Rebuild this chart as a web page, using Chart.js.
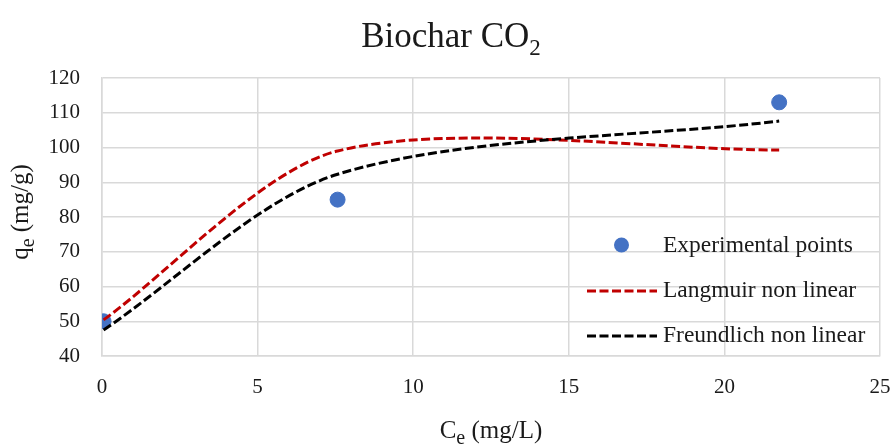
<!DOCTYPE html>
<html lang="en">
<head>
    <meta charset="UTF-8">
    <title>Biochar CO2</title>
    <script src="https://cdn.jsdelivr.net/npm/chart.js"></script>
    <style>
        html, body { margin: 0; padding: 0; background: #fff; }
        #wrap { width: 893px; height: 446px; }
    </style>
</head>
<body>
    <div id="wrap"><canvas id="chart"></canvas></div>

    <script>
        // data
        const ceExp = [0.05, 7.57, 21.76];
        const qeExp = [50.0, 85.0, 113.0];
        const qeLangmuir = [50.4, 99.0, 99.3];
        const qeFreundlich = [47.5, 92.3, 107.6];

        const xTicks = [0, 5, 10, 15, 20, 25];
        const yTicks = [40, 50, 60, 70, 80, 90, 100, 110, 120];

        const serif = '"Liberation Serif", "Times New Roman", serif';
        const textColor = "#1a1a1a";

        function toPoints(xs, ys) {
            return xs.map((x, i) => ({ x: x, y: ys[i] }));
        }

        // draw text with subscripts, parts = [[text, isSub], ...]
        function drawParts(ctx, parts, x, y, size, align, subScale) {
            const subSize = Math.round(size * (subScale || 0.66));
            let total = 0;
            parts.forEach(p => {
                ctx.font = (p[1] ? subSize : size) + "px " + serif;
                total += ctx.measureText(p[0]).width;
            });
            let cx = align === "center" ? x - total / 2 : x;
            parts.forEach(p => {
                ctx.font = (p[1] ? subSize : size) + "px " + serif;
                ctx.fillText(p[0], cx, p[1] ? y + size * 0.22 : y);
                cx += ctx.measureText(p[0]).width;
            });
        }

        const labelsPlugin = {
            id: "labels",
            afterDraw(chart) {
                const ctx = chart.ctx;
                const area = chart.chartArea;
                ctx.save();
                ctx.fillStyle = textColor;
                ctx.textBaseline = "alphabetic";
                ctx.textAlign = "left";

                // title
                drawParts(ctx, [["Biochar CO", false], ["2", true]], 451, 47, 35, "center");

                // x axis title
                drawParts(ctx, [["C", false], ["e", true], [" (mg/L)", false]], (area.left + area.right) / 2, 438, 25, "center", 0.8);

                // y axis title
                ctx.save();
                ctx.translate(28, 212);
                ctx.rotate(-Math.PI / 2);
                drawParts(ctx, [["q", false], ["e", true], [" (mg/g)", false]], 0, 0, 25, "center", 0.8);
                ctx.restore();

                // legend
                ctx.font = "23.5px " + serif;
                ctx.textBaseline = "middle";
                ctx.fillStyle = "#4472c4";
                ctx.beginPath();
                ctx.arc(621.5, 245, 7.5, 0, Math.PI * 2);
                ctx.fill();
                ctx.fillStyle = textColor;
                ctx.fillText("Experimental points", 663, 246);

                ctx.lineWidth = 3;
                ctx.setLineDash([9, 3.5]);
                ctx.strokeStyle = "#c00000";
                ctx.beginPath();
                ctx.moveTo(587, 291);
                ctx.lineTo(657, 291);
                ctx.stroke();
                ctx.fillText("Langmuir non linear", 663, 291);

                ctx.strokeStyle = "#000000";
                ctx.beginPath();
                ctx.moveTo(587, 336);
                ctx.lineTo(657, 336);
                ctx.stroke();
                ctx.fillText("Freundlich non linear", 663, 336);
                ctx.restore();
            }
        };

        const ctx = document.getElementById("chart").getContext("2d");
        new Chart(ctx, {
            type: "scatter",
            data: {
                datasets: [
                    {
                        label: "Langmuir non linear",
                        data: toPoints(ceExp, qeLangmuir),
                        showLine: true,
                        borderColor: "#c00000",
                        borderWidth: 3,
                        borderDash: [9, 3.5],
                        pointRadius: 0,
                        tension: 0.28,
                        order: 2
                    },
                    {
                        label: "Freundlich non linear",
                        data: toPoints(ceExp, qeFreundlich),
                        showLine: true,
                        borderColor: "#000000",
                        borderWidth: 3,
                        borderDash: [9, 3.5],
                        pointRadius: 0,
                        tension: 0.3,
                        order: 1
                    },
                    {
                        label: "Experimental points",
                        data: toPoints(ceExp, qeExp),
                        backgroundColor: "#4472c4",
                        borderColor: "#4472c4",
                        pointRadius: 7.5,
                        order: 3
                    }
                ]
            },
            options: {
                responsive: true,
                maintainAspectRatio: false,
                animation: false,
                layout: { padding: { left: 0, right: 13, top: 78, bottom: 0 } },
                plugins: {
                    legend: { display: false },
                    title: { display: false },
                    tooltip: { enabled: false }
                },
                scales: {
                    x: {
                        type: "linear",
                        min: 0,
                        max: 25,
                        afterBuildTicks: s => { s.ticks = xTicks.map(v => ({ value: v })); },
                        afterFit: s => { s.height = 90; s.paddingLeft = 0; s.paddingRight = 0; },
                        grid: { color: "#d9d9d9", lineWidth: 1.5, drawTicks: false },
                        border: { color: "#d9d9d9", width: 1.5 },
                        ticks: { color: textColor, padding: 19, font: { family: serif, size: 21 } }
                    },
                    y: {
                        type: "linear",
                        min: 40,
                        max: 120,
                        afterBuildTicks: s => { s.ticks = yTicks.map(v => ({ value: v })); },
                        afterFit: s => { s.width = 102; s.paddingTop = 0; s.paddingBottom = 0; },
                        grid: { color: "#d9d9d9", lineWidth: 1.5, drawTicks: false },
                        border: { color: "#d9d9d9", width: 1.5 },
                        ticks: { color: textColor, padding: 22, font: { family: serif, size: 21 } }
                    }
                }
            },
            plugins: [labelsPlugin]
        });
    </script>
</body>
</html>
